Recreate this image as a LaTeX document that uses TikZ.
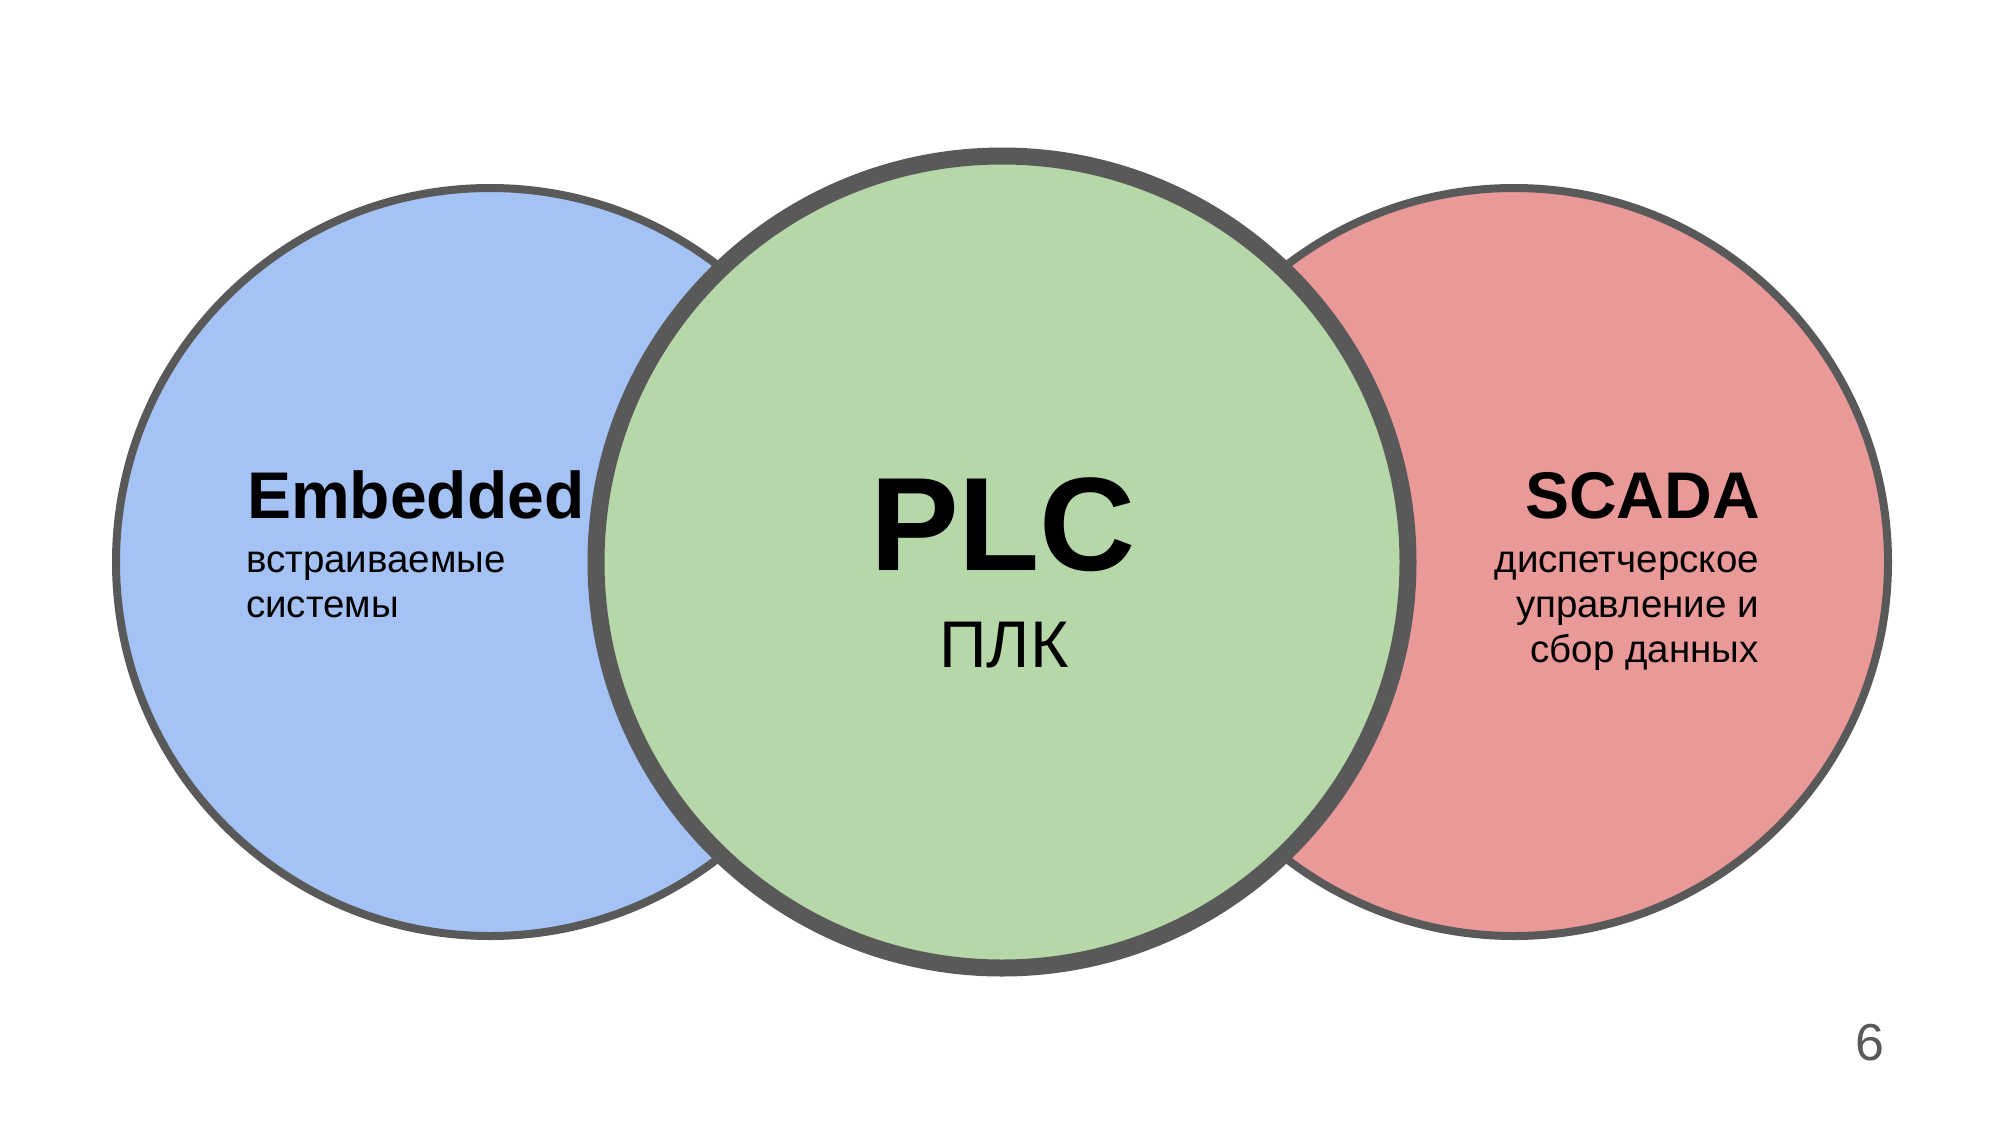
\documentclass[tikz,border=0pt]{standalone}
\usepackage{fontspec}
\setmainfont{Liberation Sans}
\usepackage{tikz}
\usetikzlibrary{positioning}

\definecolor{ringgray}{HTML}{595959}
\definecolor{embblue}{HTML}{A4C2F4}
\definecolor{plcgreen}{HTML}{B6D7A8}
\definecolor{scadared}{HTML}{EA9999}

\begin{document}
\begin{tikzpicture}[x=1pt,y=-1pt,
  thinring/.style={draw=ringgray,line width=8pt},
  thickring/.style={draw=ringgray,line width=17pt},
  bigtitle/.style={font=\fontsize{66}{70}\selectfont\bfseries,inner sep=0pt},
  subline/.style={font=\fontsize{38.5}{42}\selectfont,inner sep=0pt}]
\useasboundingbox [fill=white] (0,0) rectangle (2000,1125);

%Shape: Circle [left]
\draw [thinring,fill=embblue] (490,562) circle [radius=374];
%Shape: Circle [right]
\draw [thinring,fill=scadared] (1514,562) circle [radius=374];
%Shape: Circle [middle]
\draw [thickring,fill=plcgreen] (1002,562) circle [radius=406];

% Text Node
\node [bigtitle,anchor=base west] (emb) at (247,518) {Embedded};
\node [subline,anchor=base west] (emb1) at (246,572) {встраиваемые};
\node [subline,anchor=base west] (emb2) at (246,617) {системы};

% Text Node
\node [anchor=base,inner sep=0pt,font=\fontsize{133}{140}\selectfont\bfseries] (plc) at (1003,570) {PLC};
\node [anchor=base,inner sep=0pt,font=\fontsize{66}{70}\selectfont] (plk) at (1004,667) {ПЛК};

% Text Node
\node [bigtitle,anchor=base east] (scada) at (1760,518) {SCADA};
\node [subline,anchor=base east] (scada1) at (1759,572) {диспетчерское};
\node [subline,anchor=base east] (scada2) at (1759,617) {управление и};
\node [subline,anchor=base east] (scada3) at (1759,662) {сбор данных};

% Text Node
\node [anchor=base,inner sep=0pt,text=ringgray,font=\fontsize{52}{56}\selectfont] (pgnum) at (1870,1060) {6};

\end{tikzpicture}
\end{document}
